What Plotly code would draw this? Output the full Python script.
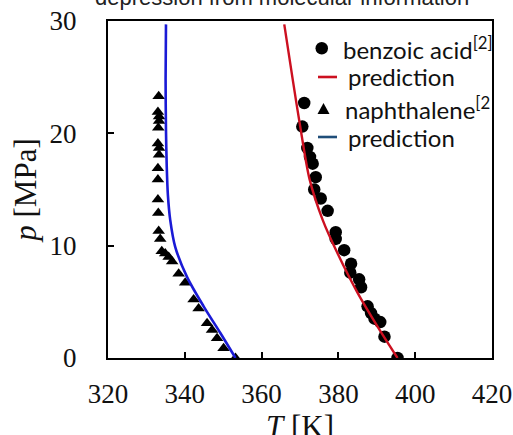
import plotly.graph_objects as go

# ---- data ----
benzoic_T = [371.1, 370.6, 371.9, 372.6, 373.3, 374.1, 373.7, 375.4, 377.2, 379.3, 379.3, 381.5,
             383.3, 383.1, 385.4, 385.9, 387.6, 388.5, 389.4, 390.9, 392.0, 395.4]
benzoic_p = [22.7, 20.6, 18.7, 17.9, 17.3, 16.1, 15.0, 14.2, 13.1, 11.2, 10.6, 9.6,
             8.4, 7.6, 7.0, 6.3, 4.6, 4.0, 3.5, 3.2, 1.9, 0.0]

benzoic_pred_T = [395.4, 390.2, 385.0, 379.8, 375.9, 372.5, 370.2, 368.1, 365.9]
benzoic_pred_p = [0.0, 2.8, 5.8, 9.3, 12.3, 15.9, 20.3, 24.8, 29.7]

naph_T = [333.2, 333.0, 333.3, 333.3, 333.1, 333.0, 333.3, 333.3, 333.0, 333.0, 333.0, 333.1,
          333.2, 333.6, 334.0, 334.9, 335.8, 336.7, 338.4, 340.1, 342.3, 343.6, 345.8, 347.1,
          348.4, 350.1, 353.2]
naph_p = [23.3, 21.9, 21.5, 21.1, 20.5, 19.1, 18.7, 18.1, 16.9, 15.9, 14.1, 12.9,
          11.3, 10.6, 9.5, 9.3, 9.0, 8.6, 7.5, 6.7, 5.2, 4.4, 3.1, 2.5,
          1.75, 0.86, 0.0]

naph_pred_T = [353.2, 349.3, 344.9, 340.6, 337.5, 336.2, 335.6, 335.3, 335.1, 335.0, 335.1]
naph_pred_p = [0.0, 2.2, 4.6, 7.2, 9.9, 12.3, 14.5, 17.0, 20.3, 24.8, 29.7]

x_ticks = [320, 340, 360, 380, 400, 420]
y_ticks = [0, 10, 20, 30]

legend_labels = ["benzoic acid<sup>[2]</sup>", "prediction", "naphthalene<sup>[2</sup>", "prediction"]
title_text = "depression from molecular information"
x_title = "<i>T</i> [K]"
y_title = "<i>p</i> [MPa]"

RED = "#cc1020"
BLUE = "#1a1ad6"
NAVY = "#1f4e79"

# ---- layout geometry (window pixels; body margin removed below) ----
W, H = 513, 435
P_LEFT, P_RIGHT, P_TOP, P_BOTTOM = 108, 492, 21, 358
L, T = P_LEFT, P_TOP
R, B = W - P_RIGHT, H - P_BOTTOM
PW, PH = P_RIGHT - P_LEFT, P_BOTTOM - P_TOP


def px(xp):
    return (xp - P_LEFT) / PW


def py(yp):
    return (P_BOTTOM - yp) / PH


fig = go.Figure()
fig.add_trace(go.Scatter(x=naph_T, y=naph_p, mode="markers",
                         marker=dict(symbol="triangle-up", size=11, color="black"),
                         showlegend=False))
fig.add_trace(go.Scatter(x=benzoic_T, y=benzoic_p, mode="markers",
                         marker=dict(symbol="circle", size=12.5, color="black"),
                         showlegend=False))
fig.add_trace(go.Scatter(x=naph_pred_T, y=naph_pred_p, mode="lines",
                         line=dict(color=BLUE, width=2.6, shape="spline", smoothing=0.8),
                         showlegend=False))
fig.add_trace(go.Scatter(x=benzoic_pred_T, y=benzoic_pred_p, mode="lines",
                         line=dict(color=RED, width=2.4, shape="spline", smoothing=0.8),
                         showlegend=False))

axis_common = dict(showline=True, linecolor="black", linewidth=2.2, mirror=True,
                   ticks="inside", ticklen=6, tickwidth=1.6, tickcolor="black",
                   showgrid=False, zeroline=False, automargin=False,
                   ticklabeloverflow="allow",
                   tickfont=dict(family="Liberation Serif", size=27, color="#111"))

fig.update_xaxes(range=[320, 420], tickvals=x_ticks, ticklabelstandoff=10,
                 **axis_common)
fig.update_yaxes(range=[0, 30], tickvals=y_ticks, ticklabelstandoff=24,
                 title=dict(text=y_title, standoff=4,
                            font=dict(family="Liberation Serif", size=31, color="#111")),
                 **axis_common)

# ---- manual legend ----
LF = dict(family="Lato", size=24, color="#111")
rows_y = [48, 77, 108, 137]
shapes = []
shapes.append(dict(type="circle", xref="paper", yref="paper",
                   x0=px(315.5), x1=px(328), y0=py(54.5), y1=py(42),
                   fillcolor="black", line=dict(width=0)))
shapes.append(dict(type="line", xref="paper", yref="paper",
                   x0=px(318), x1=px(337), y0=py(rows_y[1]), y1=py(rows_y[1]),
                   line=dict(color=RED, width=2.6)))
tx, ty = 323.5, 109
shapes.append(dict(type="path", xref="paper", yref="paper",
                   path=f"M {px(tx-6)},{py(ty+5)} L {px(tx+6)},{py(ty+5)} L {px(tx)},{py(ty-6)} Z",
                   fillcolor="black", line=dict(width=0)))
shapes.append(dict(type="line", xref="paper", yref="paper",
                   x0=px(318), x1=px(337), y0=py(rows_y[3]), y1=py(rows_y[3]),
                   line=dict(color=NAVY, width=2.6)))

text_x = [341, 346, 343, 346]
annotations = []
for lab, yy, xx in zip(legend_labels, rows_y, text_x):
    annotations.append(dict(text=lab, xref="paper", yref="paper", x=px(xx), y=py(yy),
                            xanchor="left", yanchor="middle", showarrow=False, font=LF))

# x-axis title (cut by the bottom edge, as in the reference)
annotations.append(dict(text=x_title, xref="paper", yref="paper", x=px(300), y=py(426),
                        xanchor="center", yanchor="middle", showarrow=False,
                        font=dict(family="Liberation Serif", size=31, color="#111")))

annotations.append(dict(text=title_text, xref="paper", yref="paper", x=px(282), y=py(12),
                        xanchor="center", yanchor="bottom", showarrow=False,
                        font=dict(family="Liberation Sans", size=22, color="#222")))

fig.update_layout(width=W, height=H, margin=dict(l=L, r=R, t=T, b=B),
                  paper_bgcolor="white", plot_bgcolor="white",
                  shapes=shapes, annotations=annotations, showlegend=False)

fig.write_html("out.html", config={"displayModeBar": False},
               post_script="document.body.style.margin='0';")
